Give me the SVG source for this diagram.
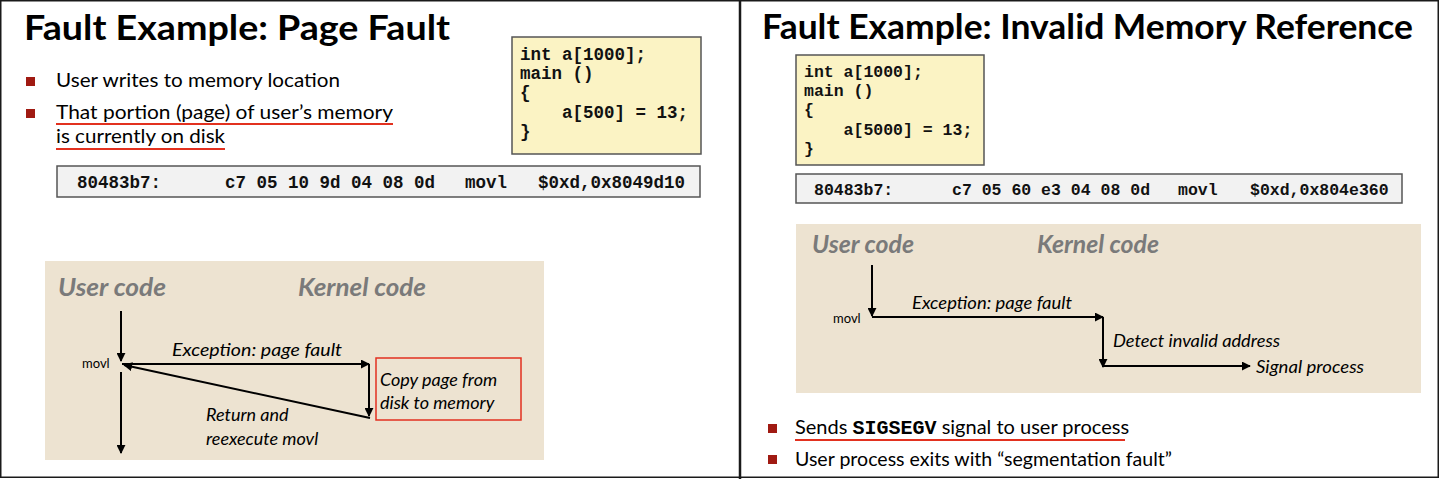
<svg xmlns="http://www.w3.org/2000/svg" width="1440" height="479" viewBox="0 0 1440 479">
<style>
.title{font-family:Lato,"Liberation Sans",sans-serif;font-weight:bold;font-size:35px;fill:#000}
.body{font-family:Lato,"Liberation Sans",sans-serif;font-size:20px;fill:#000}
.code{font-family:"Liberation Mono",monospace;font-weight:bold;font-size:17.5px;fill:#111}
.code2{font-family:"Liberation Mono",monospace;font-weight:bold;font-size:16.5px;fill:#111}
.hdr{font-family:Lato,"Liberation Sans",sans-serif;font-weight:bold;font-style:italic;font-size:24px;fill:#7a7a7a}
.lbl{font-family:Lato,"Liberation Sans",sans-serif;font-style:italic;font-size:18px;fill:#000}
.small{font-family:Lato,"Liberation Sans",sans-serif;font-size:13px;fill:#000}
.bullet{fill:#a01a12}
.ul{stroke:#e2311f;stroke-width:2;fill:none}
.codebox{fill:#fbf3c4;stroke:#555;stroke-width:1.5}
.insbox{fill:#f2f2f2;stroke:#555;stroke-width:1.5}
.bg{fill:#ede3d1}
.arrow{stroke:#000;stroke-width:2;fill:none}
.frame{fill:none;stroke:#1a1a1a;stroke-width:1.5}
</style>
<defs>
<marker id="ah" viewBox="0 0 10 10" refX="9" refY="5" markerWidth="4.5" markerHeight="4.5" orient="auto" markerUnits="strokeWidth">
<path d="M0,0 L10,5 L0,10 z" fill="#000"/>
</marker>
</defs>
<rect width="1440" height="479" fill="#fff"/>
<g id="frame">
<rect class="frame" x="0.75" y="0.75" width="1437.5" height="476.5"/>
<line x1="740" y1="0" x2="740" y2="479" stroke="#1a1a1a" stroke-width="2.5"/>
</g>
<g id="left-panel">
<text class="title" x="24" y="40" textLength="426" lengthAdjust="spacingAndGlyphs">Fault Example: Page Fault</text>
<rect class="bullet" x="26" y="77" width="9" height="9"/>
<text class="body" x="56" y="87" textLength="284" lengthAdjust="spacingAndGlyphs">User writes to memory location</text>
<rect class="bullet" x="26" y="109" width="9" height="9"/>
<text class="body" x="56" y="119" textLength="337" lengthAdjust="spacingAndGlyphs">That portion (page) of user’s memory</text>
<line class="ul" x1="56" y1="124" x2="393" y2="124"/>
<text class="body" x="56" y="143" textLength="169" lengthAdjust="spacingAndGlyphs">is currently on disk</text>
<line class="ul" x1="56" y1="149" x2="225" y2="149"/>
</g>
<g id="code-left">
<rect class="codebox" x="512" y="37" width="189" height="117"/>
<text class="code" x="520" y="60">int a[1000];</text>
<text class="code" x="520" y="79">main ()</text>
<text class="code" x="520" y="98">{</text>
<text class="code" x="520" y="118" xml:space="preserve">    a[500] = 13;</text>
<text class="code" x="520" y="137">}</text>
</g>
<g id="instr-left">
<rect class="insbox" x="57" y="166" width="643" height="31"/>
<text class="code" x="77" y="188">80483b7:</text>
<text class="code" x="225" y="188" xml:space="preserve">c7 05 10 9d 04 08 0d</text>
<text class="code" x="465" y="188">movl</text>
<text class="code" x="538" y="188">$0xd,0x8049d10</text>
</g>
<g id="diagram-left">
<rect class="bg" x="45" y="261" width="499" height="199"/>
<text class="hdr" x="58" y="296" textLength="108" lengthAdjust="spacingAndGlyphs">User code</text>
<text class="hdr" x="298" y="296" textLength="128" lengthAdjust="spacingAndGlyphs">Kernel code</text>
<text class="small" x="82" y="368">movl</text>
<text class="lbl" x="172" y="356" textLength="170" lengthAdjust="spacingAndGlyphs">Exception: page fault</text>
<text class="lbl" x="206" y="421">Return and</text>
<text class="lbl" x="206" y="445">reexecute movl</text>
<g id="copy-node">
<rect x="376" y="358" width="145" height="62" fill="none" stroke="#e2311f" stroke-width="1.5"/>
<text class="lbl" x="380" y="386">Copy page from</text>
<text class="lbl" x="380" y="409">disk to memory</text>
</g>
</g>
<g id="right-panel">
<text class="title" x="762" y="39" textLength="651" lengthAdjust="spacingAndGlyphs">Fault Example: Invalid Memory Reference</text>
</g>
<g id="code-right">
<rect class="codebox" x="796" y="55" width="188" height="110"/>
<text class="code2" x="804" y="77">int a[1000];</text>
<text class="code2" x="804" y="96">main ()</text>
<text class="code2" x="804" y="115">{</text>
<text class="code2" x="804" y="135" xml:space="preserve">    a[5000] = 13;</text>
<text class="code2" x="804" y="154">}</text>
</g>
<g id="instr-right">
<rect class="insbox" x="796" y="174" width="606" height="29"/>
<text class="code2" x="814" y="195">80483b7:</text>
<text class="code2" x="952" y="195" xml:space="preserve">c7 05 60 e3 04 08 0d</text>
<text class="code2" x="1178" y="195">movl</text>
<text class="code2" x="1250" y="195">$0xd,0x804e360</text>
</g>
<g id="diagram-right">
<rect class="bg" x="796" y="224" width="625" height="169"/>
<text class="hdr" x="812" y="253" textLength="102" lengthAdjust="spacingAndGlyphs">User code</text>
<text class="hdr" x="1037" y="253" textLength="122" lengthAdjust="spacingAndGlyphs">Kernel code</text>
<text class="small" x="833" y="323">movl</text>
<text class="lbl" x="912" y="309" textLength="160" lengthAdjust="spacingAndGlyphs">Exception: page fault</text>
<text class="lbl" x="1113" y="347" textLength="167" lengthAdjust="spacingAndGlyphs">Detect invalid address</text>
<text class="lbl" x="1256" y="373" textLength="108" lengthAdjust="spacingAndGlyphs">Signal process</text>
</g>
<g id="bullets-right">
<rect class="bullet" x="768" y="424" width="9" height="9"/>
<text class="body" x="795" y="434">Sends <tspan style="font-family:'Liberation Mono',monospace;font-weight:bold">SIGSEGV</tspan> signal to user process</text>
<line class="ul" x1="795" y1="440" x2="1125" y2="440"/>
<rect class="bullet" x="768" y="455" width="9" height="9"/>
<text class="body" x="795" y="466" textLength="377" lengthAdjust="spacingAndGlyphs">User process exits with “segmentation fault”</text>
</g>
<g id="connectors">
<line class="arrow" x1="121" y1="311" x2="121" y2="361" marker-end="url(#ah)"/>
<line class="arrow" x1="122" y1="364" x2="369" y2="364" marker-end="url(#ah)"/>
<line class="arrow" x1="369" y1="364" x2="369" y2="416" marker-end="url(#ah)"/>
<line class="arrow" x1="370" y1="418" x2="124" y2="365" marker-end="url(#ah)"/>
<line class="arrow" x1="121" y1="372" x2="121" y2="453" marker-end="url(#ah)"/>
<line class="arrow" x1="872" y1="265" x2="872" y2="316" marker-end="url(#ah)"/>
<line class="arrow" x1="872" y1="317" x2="1103" y2="317" marker-end="url(#ah)"/>
<line class="arrow" x1="1103" y1="317" x2="1103" y2="367" marker-end="url(#ah)"/>
<line class="arrow" x1="1103" y1="366" x2="1250" y2="366" marker-end="url(#ah)"/>
</g>
</svg>
